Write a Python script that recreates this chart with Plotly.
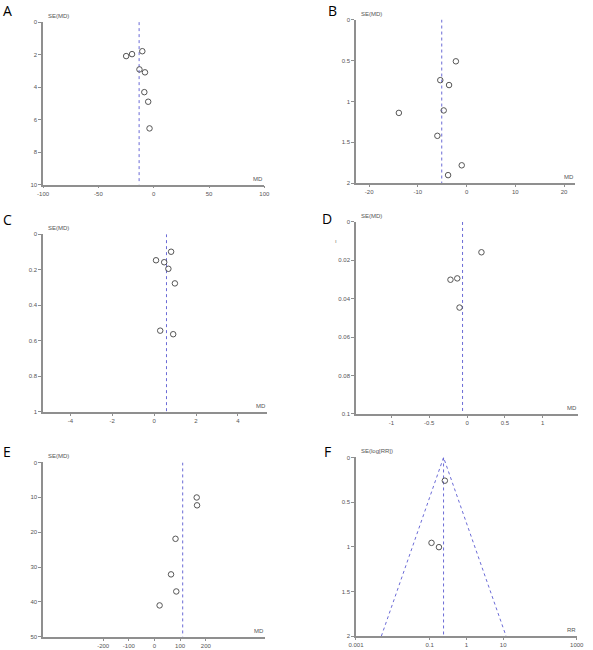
import plotly.graph_objects as go

W, H = 593, 650

# A: MD vs SE(MD)
a_md = [-24.9, -19.6, -10.3, -12.9, -7.9, -8.5, -5.0, -3.8]
a_se = [2.09, 1.97, 1.79, 2.91, 3.09, 4.31, 4.90, 6.54]
a_pooled = -13.2

# B
b_md = [-2.2, -5.4, -3.6, -4.7, -13.9, -6.0, -1.0, -3.8]
b_se = [0.51, 0.74, 0.80, 1.11, 1.14, 1.42, 1.78, 1.90]
b_pooled = -5.1

# C
c_md = [0.81, 0.09, 0.48, 0.68, 0.99, 0.29, 0.91]
c_se = [0.099, 0.147, 0.158, 0.195, 0.277, 0.543, 0.563]
c_pooled = 0.59

# D
d_md = [0.19, -0.22, -0.13, -0.10]
d_se = [0.0158, 0.0301, 0.0294, 0.0446]
d_pooled = -0.06

# E
e_md = [164.6, 166.0, 82.0, 64.6, 85.0, 20.0]
e_se = [10.05, 12.3, 21.9, 32.1, 37.0, 41.0]
e_pooled = 110.0

# F: RR vs SE(log[RR])
f_rr = [0.26, 0.113, 0.18]
f_se = [0.26, 0.956, 1.004]
f_pooled = 0.24
f_funnel_rr = [0.0049, 0.24, 12.0]
f_funnel_se = [2.0, 0.0, 2.0]

AXIS_GREY = "#8f8f8f"
TICK_FONT = dict(family="Liberation Sans", size=6, color="#555555")
DASH_BLUE = "#6b6bd6"
MARK_GREY = "#555555"


def px_x(v):
    return v / W


def px_y(v):
    return 1 - v / H


fig = go.Figure()


def add_panel(n, letter, letter_xy, box, md, se, pooled, xrange, xticks, xticktext,
              ymax, yticks, yticktext, ytitle, xtitle, log_x=False, funnel=None):
    x0, x1, y0, y1 = box
    xa = "xaxis" if n == 1 else f"xaxis{n}"
    ya = "yaxis" if n == 1 else f"yaxis{n}"
    xr = "x" if n == 1 else f"x{n}"
    yr = "y" if n == 1 else f"y{n}"

    if funnel is not None:
        fig.add_trace(go.Scatter(
            x=funnel[0], y=funnel[1], mode="lines", xaxis=xr, yaxis=yr,
            line=dict(color=DASH_BLUE, width=1, dash="dot"),
            showlegend=False, hoverinfo="skip",
        ))
    fig.add_trace(go.Scatter(
        x=[pooled, pooled], y=[0, ymax], mode="lines", xaxis=xr, yaxis=yr,
        line=dict(color=DASH_BLUE, width=1, dash="dot"),
        showlegend=False, hoverinfo="skip",
    ))
    fig.add_trace(go.Scatter(
        x=md, y=se, mode="markers", xaxis=xr, yaxis=yr,
        marker=dict(symbol="circle-open", size=5.5, color=MARK_GREY,
                    line=dict(width=1, color=MARK_GREY)),
        showlegend=False,
    ))

    fig.layout[xa] = dict(
        domain=[px_x(x0), px_x(x1)], anchor=yr,
        type="log" if log_x else "linear", range=xrange,
        tickvals=xticks, ticktext=xticktext,
        showline=True, linecolor=AXIS_GREY, linewidth=1.5,
        ticks="outside", ticklen=2, tickcolor=AXIS_GREY, tickwidth=1,
        showgrid=False, zeroline=False, tickfont=TICK_FONT,
    )
    fig.layout[ya] = dict(
        domain=[px_y(y1), px_y(y0)], anchor=xr,
        range=[ymax, 0], tickvals=yticks, ticktext=yticktext,
        showline=True, linecolor=AXIS_GREY, linewidth=1.5,
        ticks="outside", ticklen=3, tickcolor=AXIS_GREY, tickwidth=1,
        showgrid=False, zeroline=False, tickfont=TICK_FONT,
    )

    fig.add_annotation(
        x=px_x(letter_xy[0]), y=px_y(letter_xy[1]), xref="paper", yref="paper",
        text=letter, showarrow=False, xanchor="left", yanchor="top",
        borderpad=0,
        font=dict(family="Open Sans", size=14, color="black"),
    )
    fig.add_annotation(
        x=px_x(x0 + 3), y=px_y(y0 - 1), xref="paper", yref="paper",
        text=ytitle, showarrow=False, xanchor="left", yanchor="bottom",
        font=dict(family="Liberation Sans", size=6, color="#555555"),
    )
    fig.add_annotation(
        x=px_x(x1 + 1), y=px_y(y1 - 1), xref="paper", yref="paper",
        text=xtitle, showarrow=False, xanchor="right", yanchor="bottom",
        font=dict(family="Liberation Sans", size=6, color="#555555"),
    )


add_panel(1, "A", (-6, -3), (36, 263, 19.3, 183.3), a_md, a_se, a_pooled,
          [-100, 100], [-100, -50, 0, 50, 100], ["-100", "-50", "0", "50", "100"],
          10, [0, 2, 4, 6, 8, 10], ["0", "2", "4", "6", "8", "10"], "SE(MD)", "MD")
add_panel(2, "B", (327, -3), (357, 582, 16.7, 182), b_md, b_se, b_pooled,
          [-22.7, 22.3], [-20, -10, 0, 10, 20], ["-20", "-10", "0", "10", "20"],
          2, [0, 0.5, 1, 1.5, 2], ["0", "0.5", "1", "1.5", "2"], "SE(MD)", "MD")
add_panel(3, "C", (-6, 208), (36, 266, 233.3, 412.7), c_md, c_se, c_pooled,
          [-5.3, 5.4], [-4, -2, 0, 2, 4], ["-4", "-2", "0", "2", "4"],
          1, [0, 0.2, 0.4, 0.6, 0.8, 1], ["0", "0.2", "0.4", "0.6", "0.8", "1"], "SE(MD)", "MD")
add_panel(4, "D", (321, 207), (357, 585, 221, 414.7), d_md, d_se, d_pooled,
          [-1.47, 1.47], [-1, -0.5, 0, 0.5, 1], ["-1", "-0.5", "0", "0.5", "1"],
          0.1, [0, 0.02, 0.04, 0.06, 0.08, 0.1], ["0", "0.02", "0.04", "0.06", "0.08", "0.1"],
          "SE(MD)", "MD")
add_panel(5, "E", (-6, 442), (36, 264, 463.7, 639.7), e_md, e_se, e_pooled,
          [-434, 432], [-200, -100, 0, 100, 200], ["-200", "-100", "0", "100", "200"],
          50, [0, 10, 20, 30, 40, 50], ["0", "10", "20", "30", "40", "50"], "SE(MD)", "MD")
add_panel(6, "F", (323, 442), (357, 583.5, 458.7, 639), f_rr, f_se, f_pooled,
          [-3, 3], [0.001, 0.1, 1, 10, 1000], ["0.001", "0.1", "1", "10", "1000"],
          2, [0, 0.5, 1, 1.5, 2], ["0", "0.5", "1", "1.5", "2"], "SE(log[RR])", "RR",
          log_x=True, funnel=(f_funnel_rr, f_funnel_se))

# stray mark next to panel D's axis
fig.add_annotation(x=px_x(337), y=px_y(240), xref="paper", yref="paper",
                   text="ı", showarrow=False,
                   font=dict(family="Liberation Sans", size=6, color="#777777"))

fig.update_layout(
    width=W, height=H,
    margin=dict(l=0, r=0, t=0, b=0),
    paper_bgcolor="white", plot_bgcolor="white",
    showlegend=False,
)

# the page body keeps its default 8px margin otherwise, which pushes the
# figure off the bottom/right of the window
fig.write_html(
    "out.html",
    config={"displayModeBar": False},
    post_script="document.body.style.margin = '0';",
)
